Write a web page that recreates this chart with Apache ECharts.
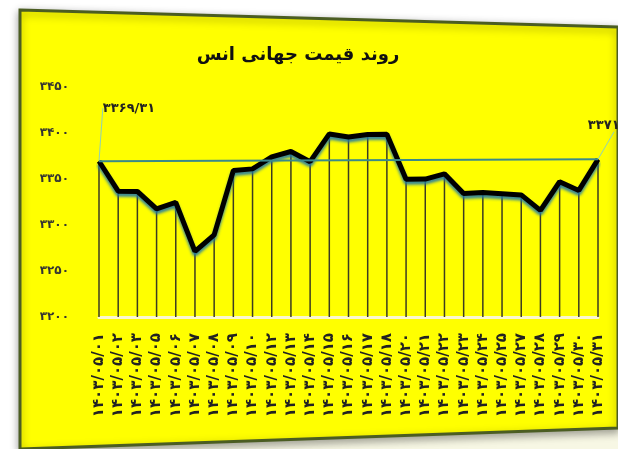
<!DOCTYPE html>
<html>
<head>
<meta charset="utf-8">
<style>
  html, body { margin: 0; padding: 0; background: #ffffff; }
  #chart { width: 618px; height: 449px; }
</style>
<script src="https://cdn.jsdelivr.net/npm/echarts@6/dist/echarts.min.js"></script>
</head>
<body>
<div id="chart"></div>
<script>
// Daily ounce price, Mordad 1403
const dates = [
  '۱۴۰۳/۰۵/۰۱', '۱۴۰۳/۰۵/۰۲', '۱۴۰۳/۰۵/۰۳', '۱۴۰۳/۰۵/۰۵', '۱۴۰۳/۰۵/۰۶',
  '۱۴۰۳/۰۵/۰۷', '۱۴۰۳/۰۵/۰۸', '۱۴۰۳/۰۵/۰۹', '۱۴۰۳/۰۵/۱۰', '۱۴۰۳/۰۵/۱۲',
  '۱۴۰۳/۰۵/۱۳', '۱۴۰۳/۰۵/۱۴', '۱۴۰۳/۰۵/۱۵', '۱۴۰۳/۰۵/۱۶', '۱۴۰۳/۰۵/۱۷',
  '۱۴۰۳/۰۵/۱۸', '۱۴۰۳/۰۵/۲۰', '۱۴۰۳/۰۵/۲۱', '۱۴۰۳/۰۵/۲۲', '۱۴۰۳/۰۵/۲۳',
  '۱۴۰۳/۰۵/۲۴', '۱۴۰۳/۰۵/۲۵', '۱۴۰۳/۰۵/۲۷', '۱۴۰۳/۰۵/۲۸', '۱۴۰۳/۰۵/۲۹',
  '۱۴۰۳/۰۵/۳۰', '۱۴۰۳/۰۵/۳۱'
];
const prices = [
  3369.31, 3336.8, 3336.5, 3317.5, 3324.5, 3271.4, 3289.3, 3359.2, 3361.0,
  3374.0, 3379.9, 3368.8, 3399.0, 3395.6, 3398.4, 3398.7, 3349.8, 3349.9,
  3355.6, 3334.2, 3335.3, 3334.0, 3332.7, 3315.9, 3347.0, 3337.6, 3371.4
];
const yTicks = [3200, 3250, 3300, 3350, 3400, 3450];
const titleText = 'روند قیمت جهانی انس';

const FONT = '"DejaVu Sans", sans-serif';
const faDigits = '۰۱۲۳۴۵۶۷۸۹';
function toFa(v) {
  return String(v).replace('.', '/').replace(/\d/g, d => faDigits[+d]);
}
function faPrice(v) {
  return toFa(v.toFixed(2));
}

const last = prices.length - 1;
const endLabel = {
  show: true,
  position: 'top',
  formatter: p => faPrice(p.value),
  color: '#222',
  opacity: 1,
  fontFamily: FONT,
  fontWeight: 'bold',
  fontSize: 13
};
const lineData = prices.map((v, i) => {
  if (i === 0 || i === last) {
    return {
      value: v,
      label: endLabel,
      labelLine: { show: true, lineStyle: { color: '#8fd0b8', width: 1 } }
    };
  }
  return v;
});

// shift for the two end labels and a diagonal leader from the point
function endLabelLayout(p) {
  let dx, dy, gap;
  if (p.dataIndex === 0) { dx = 30; dy = -41; gap = 10; }
  else if (p.dataIndex === last) { dx = 16; dy = -22; gap = 6; }
  else return {};
  const r = p.labelRect;
  const px = r.x + r.width / 2;
  const py = r.y + r.height + 5;
  const ex = px + dx + (p.dataIndex === 0 ? 1 : -7);
  const ey = r.y + r.height + dy + gap;
  return {
    dx: dx,
    dy: dy,
    labelLinePoints: [[px, py], [(px + ex) / 2, (py + ey) / 2], [ex, ey]]
  };
}

const chart = echarts.init(document.getElementById('chart'), null, { renderer: 'canvas' });

chart.setOption({
  animation: false,
  backgroundColor: '#ffffff',
  graphic: [
    {
      type: 'polygon',
      z: -10,
      shape: { points: [[20, 449], [618, 428], [618, 449]] },
      style: { fill: '#f7f7e4' },
      silent: true
    },
    {
      type: 'polygon',
      z: -5,
      shape: { points: [[20, 10], [618, 27], [618, 428], [20, 449]] },
      style: {
        fill: '#ffff00',
        stroke: '#4b5d22',
        lineWidth: 3,
        shadowBlur: 8,
        shadowColor: 'rgba(0,0,0,0.35)',
        shadowOffsetY: 3
      },
      silent: true
    },
    {
      type: 'text',
      x: 298,
      y: 55,
      style: {
        text: titleText,
        fill: '#111',
        font: 'bold 18px ' + FONT,
        textAlign: 'center',
        textVerticalAlign: 'middle'
      },
      silent: true
    }
  ],
  grid: { left: 99, right: 20, top: 87, bottom: 132 },
  xAxis: {
    type: 'category',
    data: dates,
    boundaryGap: false,
    axisLine: { show: true, lineStyle: { color: '#fbf7d0', width: 3 } },
    axisTick: { show: false },
    axisLabel: {
      interval: 0,
      rotate: 90,
      margin: 16,
      color: '#222',
      fontFamily: FONT,
      fontWeight: 'bold',
      fontSize: 15
    },
    splitLine: { show: false }
  },
  yAxis: {
    type: 'value',
    min: yTicks[0],
    max: yTicks[yTicks.length - 1],
    interval: yTicks[1] - yTicks[0],
    axisLine: { show: false },
    axisTick: { show: false },
    splitLine: { show: false },
    axisLabel: {
      margin: 30,
      color: '#333',
      fontFamily: FONT,
      fontWeight: 'bold',
      fontSize: 12,
      formatter: v => toFa(v)
    }
  },
  series: [
    {
      // drop lines from each point to the base
      type: 'bar',
      data: prices,
      barWidth: 1.5,
      itemStyle: { color: '#3b3b22' },
      silent: true,
      z: 1
    },
    {
      type: 'line',
      data: lineData,
      symbol: 'circle',
      symbolSize: 1,
      showAllSymbol: true,
      itemStyle: { color: 'rgba(0,0,0,0)' },
      lineStyle: {
        color: '#000000',
        width: 5,
        shadowColor: 'rgba(30,120,170,0.9)',
        shadowBlur: 3,
        shadowOffsetY: 3
      },
      labelLayout: endLabelLayout,
      markLine: {
        silent: true,
        symbol: 'none',
        label: { show: false },
        lineStyle: { color: '#3a8a8a', width: 2, type: 'solid' },
        data: [[
          { coord: [0, prices[0]] },
          { coord: [last, prices[last]] }
        ]]
      },
      z: 3
    }
  ]
});
</script>
</body>
</html>
